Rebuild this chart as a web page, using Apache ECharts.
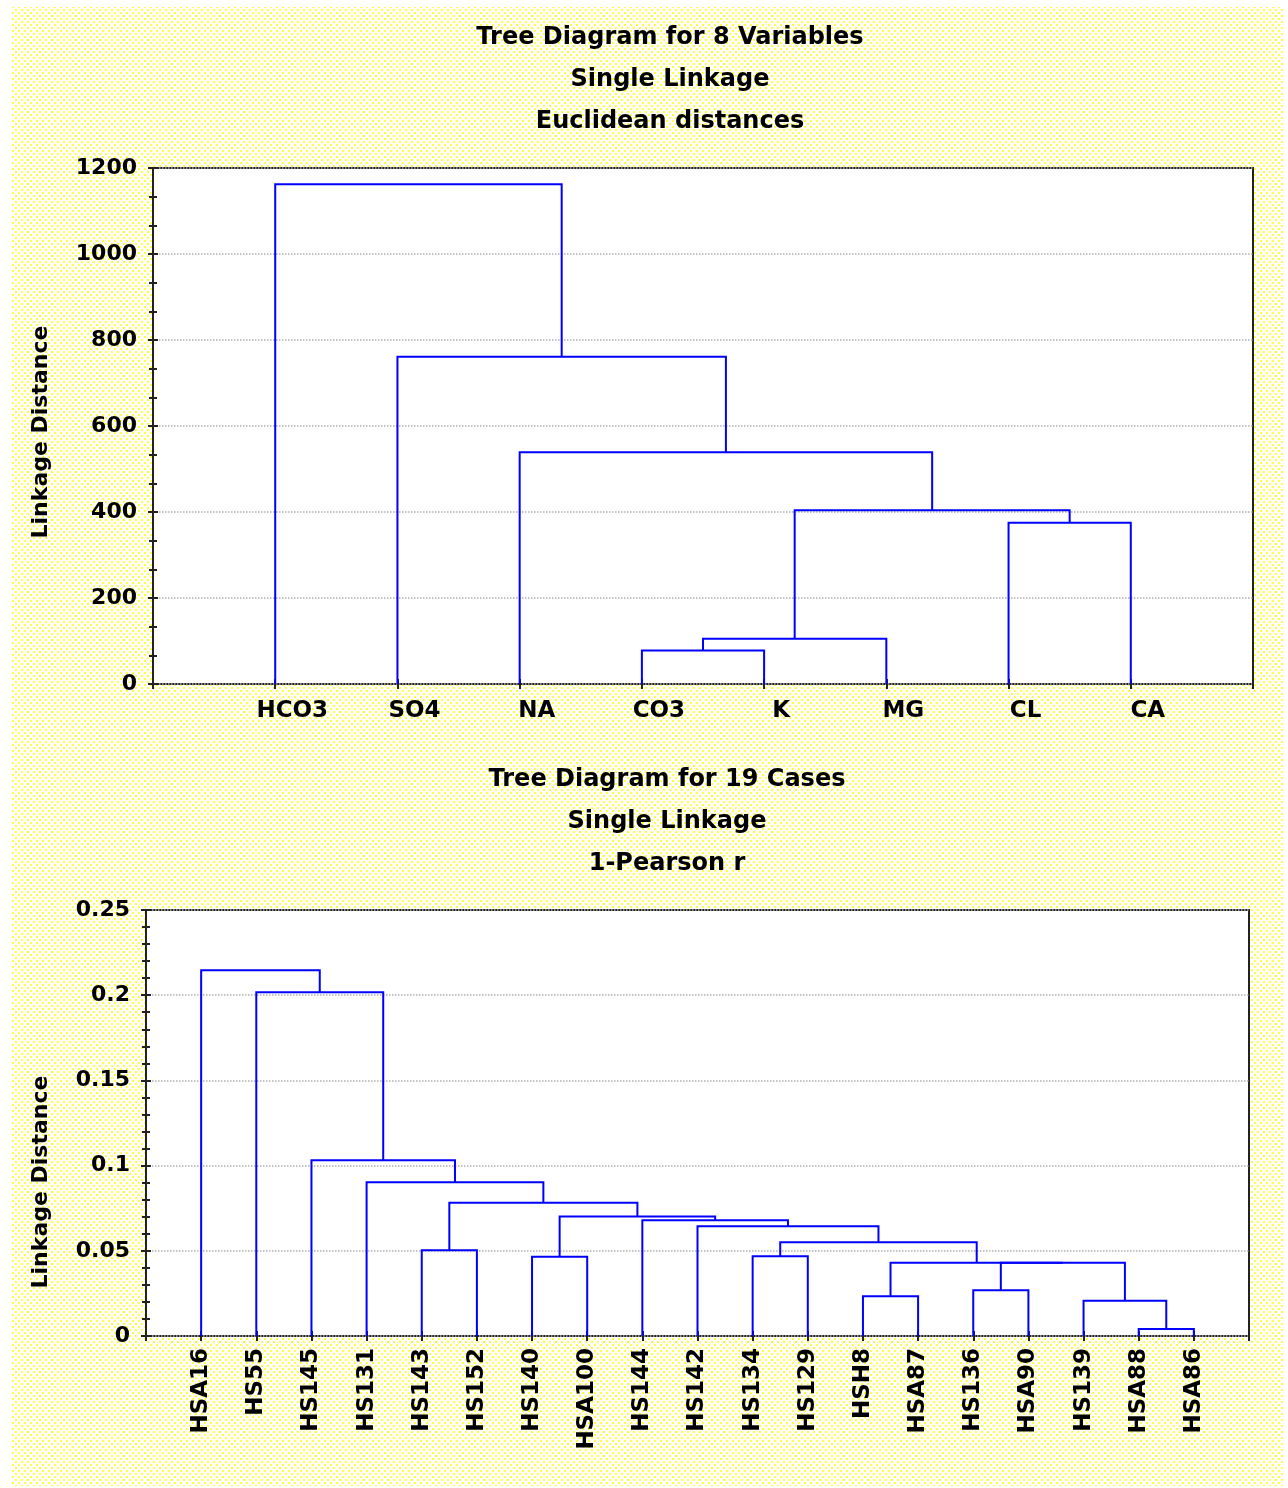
<!DOCTYPE html>
<html>
<head>
<meta charset="utf-8">
<script src="https://cdn.jsdelivr.net/npm/echarts@6/dist/echarts.min.js"></script>
<style>
html, body { margin: 0; padding: 0; background: #fff; }
#main { width: 1288px; height: 1488px; }
</style>
</head>
<body>
<div id="main"></div>
<script>
// top tree: 8 variables
var varNames = ['HCO3', 'SO4', 'NA', 'CO3', 'K', 'MG', 'CL', 'CA'];
// joins refer to cluster ids: leaves 0..7, then 8, 9, ... in join order
var varJoins = [[3, 4], [8, 5], [6, 7], [9, 10], [2, 11], [1, 12], [0, 13]];
var varHeights = [78, 105, 375, 404, 539, 761, 1162];

// bottom tree: 19 cases
var caseNames = ['HSA16', 'HS55', 'HS145', 'HS131', 'HS143', 'HS152', 'HS140', 'HSA100', 'HS144', 'HS142',
                 'HS134', 'HS129', 'HSH8', 'HSA87', 'HS136', 'HSA90', 'HS139', 'HSA88', 'HSA86'];
var caseJoins = [[17, 18], [16, 19], [12, 13], [14, 15], [22, 20], [21, 23], [10, 11], [6, 7], [4, 5],
                 [25, 24], [9, 28], [8, 29], [26, 30], [27, 31], [3, 32], [2, 33], [1, 34], [0, 35]];
var caseHeights = [0.0041, 0.0207, 0.0233, 0.0268, 0.0430, 0.0430, 0.0468, 0.0465, 0.0503,
                   0.0550, 0.0644, 0.0679, 0.0702, 0.0782, 0.0902, 0.1031, 0.2017, 0.2146];

var FONT = '"DejaVu Sans", sans-serif';

// turn joins into U shaped polylines, node x = middle of its two children
function buildLinks(n, joins, heights) {
    var pos = [], hgt = [], out = [];
    for (var i = 0; i < n; i++) { pos.push(i + 1); hgt.push(0); }
    joins.forEach(function (j, k) {
        var a = j[0], b = j[1], h = heights[k];
        out.push({coords: [[pos[a], hgt[a]], [pos[a], h], [pos[b], h], [pos[b], hgt[b]]]});
        pos.push((pos[a] + pos[b]) / 2);
        hgt.push(h);
    });
    return out;
}

// dotted yellow background tile
var tile = document.createElement('canvas');
tile.width = 6; tile.height = 6;
var tc = tile.getContext('2d');
tc.fillStyle = '#ffffff'; tc.fillRect(0, 0, 6, 6);
tc.fillStyle = '#ffff3c'; tc.fillRect(0, 0, 2, 2); tc.fillRect(3, 3, 2, 2);

var tickStyle = {color: '#222', width: 2};

function xAxes(grid, names, pos, label) {
    return {
        gridIndex: grid, type: 'value', min: 0, max: names.length + 1, interval: 1, position: pos,
        axisLine: {show: false},
        axisTick: {show: true, inside: true, length: 5, lineStyle: tickStyle},
        splitLine: {show: false},
        axisLabel: label ? label : {show: false}
    };
}

function yAxes(grid, max, step, minor, pos, withLabels) {
    return {
        gridIndex: grid, type: 'value', min: 0, max: max, interval: step, position: pos,
        axisLine: {show: false},
        axisTick: {show: true, inside: true, length: 5, lineStyle: tickStyle},
        minorTick: {show: true, splitNumber: minor, length: 4, lineStyle: tickStyle},
        splitLine: {show: withLabels, lineStyle: {type: 'dotted', color: '#b0b0b0', width: 1.5}},
        axisLabel: withLabels ? {
            show: true, margin: 16, color: '#000', fontFamily: FONT, fontWeight: 'bold', fontSize: 22,
            formatter: function (v) { return String(+v.toFixed(4)); }
        } : {show: false}
    };
}

var titleStyle = {fontFamily: FONT, fontWeight: 'bold', fontSize: 24, color: '#000', lineHeight: 42};

var option = {
    animation: false,
    backgroundColor: '#fff',
    title: [
        {text: 'Tree Diagram for 8 Variables\nSingle Linkage\nEuclidean distances',
         left: 670, top: 17, textAlign: 'center', padding: 0, textStyle: titleStyle},
        {text: 'Tree Diagram for 19 Cases\nSingle Linkage\n1-Pearson r',
         left: 667, top: 759, textAlign: 'center', padding: 0, textStyle: titleStyle}
    ],
    graphic: [
        {type: 'rect', z: -10, silent: true, shape: {x: 11, y: 7, width: 1273, height: 1479},
         style: {fill: {image: tile, repeat: 'repeat'}}},
        {type: 'text', x: 41, y: 432, rotation: Math.PI / 2, silent: true,
         style: {text: 'Linkage Distance', font: 'bold 22px ' + FONT, fill: '#000',
                 align: 'center', verticalAlign: 'middle', textAlign: 'center', textVerticalAlign: 'middle'}},
        {type: 'text', x: 41, y: 1182, rotation: Math.PI / 2, silent: true,
         style: {text: 'Linkage Distance', font: 'bold 22px ' + FONT, fill: '#000',
                 align: 'center', verticalAlign: 'middle', textAlign: 'center', textVerticalAlign: 'middle'}}
    ],
    grid: [
        {left: 153, top: 168, width: 1100, height: 516, show: true,
         backgroundColor: '#fff', borderColor: '#222', borderWidth: 2},
        {left: 146, top: 910, width: 1103, height: 426, show: true,
         backgroundColor: '#fff', borderColor: '#222', borderWidth: 2}
    ],
    xAxis: [
        xAxes(0, varNames, 'bottom', {
            show: true, margin: 16, color: '#000', fontFamily: FONT, fontWeight: 'bold', fontSize: 23,
            padding: [0, 0, 0, 34],
            formatter: function (v) { return varNames[v - 1] || ''; }
        }),
        xAxes(0, varNames, 'top', null),
        xAxes(1, caseNames, 'bottom', {
            show: true, margin: 12, rotate: 90, color: '#000', fontFamily: FONT, fontWeight: 'bold', fontSize: 23,
            formatter: function (v) { return caseNames[v - 1] || ''; }
        }),
        xAxes(1, caseNames, 'top', null)
    ],
    yAxis: [
        yAxes(0, 1200, 200, 3, 'left', true),
        yAxes(0, 1200, 200, 3, 'right', false),
        yAxes(1, 0.25, 0.05, 5, 'left', true),
        yAxes(1, 0.25, 0.05, 5, 'right', false)
    ],
    series: [
        {type: 'lines', coordinateSystem: 'cartesian2d', xAxisIndex: 0, yAxisIndex: 0, polyline: true,
         silent: true, lineStyle: {color: '#0000ff', width: 2, opacity: 1},
         data: buildLinks(varNames.length, varJoins, varHeights)},
        {type: 'lines', coordinateSystem: 'cartesian2d', xAxisIndex: 2, yAxisIndex: 2, polyline: true,
         silent: true, lineStyle: {color: '#0000ff', width: 2, opacity: 1},
         data: buildLinks(caseNames.length, caseJoins, caseHeights)}
    ]
};

var chart = echarts.init(document.getElementById('main'));
chart.setOption(option);
</script>
</body>
</html>
